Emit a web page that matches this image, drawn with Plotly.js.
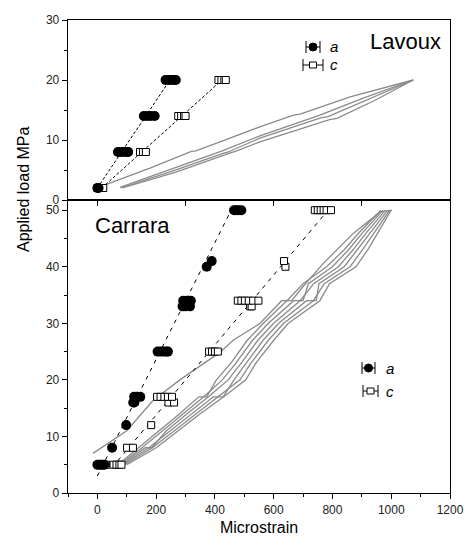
<!DOCTYPE html>
<html><head><meta charset="utf-8">
<script src="https://cdn.plot.ly/plotly-3.0.1.min.js"></script>
<style>html,body{margin:0;padding:0;background:#fff}#chart{width:468px;height:539px}</style>
</head><body><div id="chart"></div>
<script>
// ---------- Lavoux (top panel) ----------
const lavAX = [0, 4, 70, 80, 90, 100, 105, 158, 170, 182, 195, 232, 242, 252, 262, 267];
const lavAY = [2, 2, 8, 8, 8, 8, 8, 14, 14, 14, 14, 20, 20, 20, 20, 20];
const lavCX = [0, 10, 20, 145, 155, 165, 275, 285, 295, 300, 412, 422, 432, 437];
const lavCY = [2, 2, 2, 8, 8, 8, 14, 14, 14, 14, 20, 20, 20, 20];
const lavCErr = [5, 5, 5, 5, 5, 5, 5, 5, 5, 5, 5, 5, 5, 5];
const lavFitAX = [0, 247];
const lavFitAY = [2, 20];
const lavFitCX = [15, 424];
const lavFitCY = [2, 20];
const lavGauge1X = [15, 179, 320, 335, 440, 553, 665, 690, 860, 1075];
const lavGauge1Y = [2.3, 5.3, 8.1, 8.2, 10.1, 12.2, 14.1, 14.3, 17.2, 20];
const lavGauge2X = [77, 250, 410, 425, 553, 740, 755, 900, 1075];
const lavGauge2Y = [2.1, 5.1, 8.0, 8.2, 10.7, 13.9, 14.1, 16.9, 20];
const lavGauge3X = [80, 260, 430, 445, 553, 760, 785, 920, 1075];
const lavGauge3Y = [2, 4.9, 7.8, 8.0, 10.3, 13.7, 13.9, 16.7, 20];
const lavGauge4X = [85, 270, 455, 470, 553, 790, 815, 940, 1075];
const lavGauge4Y = [2, 4.7, 7.9, 8.1, 9.7, 13.4, 13.6, 16.5, 20];

// ---------- Carrara (bottom panel) ----------
const carAX = [0, 6, 12, 18, 24, 50, 98, 122, 126, 125, 135, 146, 205, 215, 225, 235, 240, 290, 300, 315, 292, 305, 318, 372, 389, 465, 472, 480, 490];
const carAY = [5, 5, 5, 5, 5, 8, 12, 16, 16, 17, 17, 17, 25, 25, 25, 25, 25, 33, 33, 33, 34, 34, 34, 40, 41, 50, 50, 50, 50];
const carCX = [30, 55, 65, 75, 82, 101, 121, 183, 242, 261, 203, 215, 228, 240, 254, 380, 390, 400, 410, 520, 525, 478, 490, 502, 515, 530, 548, 640, 635, 740, 750, 760, 770, 780, 795];
const carCY = [5, 5, 5, 5, 5, 8, 8, 12, 16, 16, 17, 17, 17, 17, 17, 25, 25, 25, 25, 33, 33, 34, 34, 34, 34, 34, 34, 40, 41, 50, 50, 50, 50, 50, 50];
const carCErr = carCX.map(() => 5);
const carFitAX = [0, 465];
const carFitAY = [3, 51];
const carFitCX = [50, 785];
const carFitCY = [4.5, 50];
const carGaugeAX = [70, 140, 210, 280, 345, 372, 405, 455, 510, 565, 645, 700, 780, 840, 890, 965];
const carGaugeAY = [5, 8, 11, 14, 17, 17, 20, 23, 27, 30, 34, 37, 40, 43, 46, 50];
const carGaugeBX = [75, 152, 222, 292, 362, 425, 472, 528, 582, 668, 700, 718, 800, 855, 902, 972];
const carGaugeBY = [5, 8, 11, 14, 17, 20, 23, 27, 30, 34, 34, 37, 40, 43, 46, 50];
const carGaugeCX = [80, 163, 185, 235, 305, 378, 445, 490, 546, 600, 690, 736, 820, 870, 915, 980];
const carGaugeCY = [5, 8, 8, 11, 14, 17, 20, 23, 27, 30, 34, 37, 40, 43, 46, 50];
const carGaugeDX = [86, 175, 248, 320, 395, 428, 465, 507, 564, 617, 712, 745, 754, 840, 885, 928, 988];
const carGaugeDY = [5, 8, 11, 14, 17, 17, 20, 23, 27, 30, 34, 34, 37, 40, 43, 46, 50];
const carGaugeEX = [92, 187, 262, 335, 412, 485, 523, 582, 634, 735, 772, 860, 902, 942, 995];
const carGaugeEY = [5, 8, 11, 14, 17, 20, 23, 27, 30, 34, 37, 40, 43, 46, 50];
const carGaugeFX = [100, 200, 275, 350, 430, 505, 540, 600, 650, 757, 790, 880, 920, 955, 1000];
const carGaugeFY = [5, 8, 11, 14, 17, 20, 23, 27, 30, 34, 37, 40, 43, 46, 50];
const carGaugeGX = [-15, 100, 190, 281, 345, 418, 462, 554, 627, 661, 700, 769, 871, 962, 1002];
const carGaugeGY = [7, 11, 16.4, 20, 22.3, 24.9, 27, 30, 34, 34, 36.5, 40.6, 45.9, 49.7, 50];

const gray = '#8a8a8a';
function gauge(x, y, ya) {
  return {x: x, y: y, xaxis: ya === 'y2' ? 'x2' : 'x', yaxis: ya, mode: 'lines',
          line: {color: gray, width: 1.3}, hoverinfo: 'skip', showlegend: false};
}
function fit(x, y, ya, dash) {
  return {x: x, y: y, xaxis: ya === 'y2' ? 'x2' : 'x', yaxis: ya, mode: 'lines',
          line: {color: 'black', width: 1, dash: dash}, showlegend: false};
}
function circles(x, y, ya) {
  return {x: x, y: y, xaxis: ya === 'y2' ? 'x2' : 'x', yaxis: ya, mode: 'markers',
          marker: {symbol: 'circle', size: 10, color: 'black'}, showlegend: false};
}
function squares(x, y, err, ya) {
  return {x: x, y: y, xaxis: ya === 'y2' ? 'x2' : 'x', yaxis: ya, mode: 'markers',
          marker: {symbol: 'square', size: 7, color: 'white', line: {color: 'black', width: 1}},
          error_x: {type: 'data', array: err, visible: true, color: 'black', thickness: 1, width: 2},
          showlegend: false};
}

const traces = [
  gauge(lavGauge1X, lavGauge1Y, 'y2'), gauge(lavGauge2X, lavGauge2Y, 'y2'),
  gauge(lavGauge3X, lavGauge3Y, 'y2'), gauge(lavGauge4X, lavGauge4Y, 'y2'),
  gauge(carGaugeAX, carGaugeAY, 'y'), gauge(carGaugeBX, carGaugeBY, 'y'), gauge(carGaugeCX, carGaugeCY, 'y'),
  gauge(carGaugeDX, carGaugeDY, 'y'), gauge(carGaugeEX, carGaugeEY, 'y'), gauge(carGaugeFX, carGaugeFY, 'y'),
  gauge(carGaugeGX, carGaugeGY, 'y'),
  fit(lavFitAX, lavFitAY, 'y2', '3px,2px'), fit(lavFitCX, lavFitCY, 'y2', '3px,2px'),
  fit(carFitAX, carFitAY, 'y', '4px,5px'), fit(carFitCX, carFitCY, 'y', '4px,5px'),
  squares(lavCX, lavCY, lavCErr, 'y2'), circles(lavAX, lavAY, 'y2'),
  squares(carCX, carCY, carCErr, 'y'), circles(carAX, carAY, 'y')
];

// legend drawing helpers (paper coordinates from pixel positions)
const L = 68, W = 382, B = 493, H = 473;
const px = v => (v - L) / W, py = v => (B - v) / H;
const shapes = [], ann = [];
function legendRow(cx, cy, half, sym, label, lx) {
  shapes.push({type: 'line', xref: 'paper', yref: 'paper', x0: px(cx - half), x1: px(cx + half), y0: py(cy), y1: py(cy), line: {color: 'black', width: 1}});
  shapes.push({type: 'line', xref: 'paper', yref: 'paper', x0: px(cx - half), x1: px(cx - half), y0: py(cy - 6), y1: py(cy + 6), line: {color: 'black', width: 1}});
  shapes.push({type: 'line', xref: 'paper', yref: 'paper', x0: px(cx + half), x1: px(cx + half), y0: py(cy - 6), y1: py(cy + 6), line: {color: 'black', width: 1}});
  if (sym === 'circle') {
    shapes.push({type: 'circle', xref: 'paper', yref: 'paper', xsizemode: 'pixel', ysizemode: 'pixel',
      xanchor: px(cx), yanchor: py(cy), x0: -4, x1: 4, y0: -4, y1: 4, fillcolor: 'black', line: {color: 'black', width: 1}});
  } else {
    shapes.push({type: 'rect', xref: 'paper', yref: 'paper', xsizemode: 'pixel', ysizemode: 'pixel',
      xanchor: px(cx), yanchor: py(cy), x0: -3.5, x1: 3.5, y0: -3, y1: 3, fillcolor: 'white', line: {color: 'black', width: 1}});
  }
  ann.push({xref: 'paper', yref: 'paper', x: px(lx), y: py(cy), text: '<i>' + label + '</i>', showarrow: false,
    xanchor: 'left', yanchor: 'middle', font: {family: 'Liberation Sans, Arial', size: 15, color: 'black'}});
}
legendRow(313, 47, 7, 'circle', 'a', 328);
legendRow(313, 65, 10, 'square', 'c', 328);
legendRow(368.5, 368, 6.5, 'circle', 'a', 384);
legendRow(370.5, 391, 7.5, 'square', 'c', 384);

ann.push({xref: 'paper', yref: 'paper', x: px(405), y: py(42), text: 'Lavoux', showarrow: false,
  xanchor: 'center', yanchor: 'middle', font: {family: 'Liberation Sans, Arial', size: 22, color: 'black'}});
ann.push({xref: 'paper', yref: 'paper', x: px(132), y: py(225), text: 'Carrara', showarrow: false,
  xanchor: 'center', yanchor: 'middle', font: {family: 'Liberation Sans, Arial', size: 22, color: 'black'}});
ann.push({xref: 'paper', yref: 'paper', x: px(23), y: py(189), text: 'Applied load MPa', showarrow: false,
  textangle: -90, xanchor: 'center', yanchor: 'middle', font: {family: 'Liberation Sans, Arial', size: 16, color: 'black'}});

const tickFont = {family: 'Liberation Sans, Arial', size: 12, color: '#222'};
const split = 293 / 473;
const layout = {
  width: 468, height: 539,
  margin: {l: 68, r: 18, t: 20, b: 46},
  paper_bgcolor: 'white', plot_bgcolor: 'white',
  showlegend: false,
  font: {family: 'Liberation Sans, Arial'},
  xaxis: {domain: [0, 1], anchor: 'y', range: [-100, 1200], dtick: 200, tick0: 0,
    ticks: 'outside', ticklen: 5, tickwidth: 1, tickcolor: 'black',
    minor: {dtick: 100, ticks: 'outside', ticklen: 3, tickcolor: 'black', showgrid: false},
    showline: true, linecolor: 'black', linewidth: 1.3, mirror: true, showgrid: false, zeroline: false,
    tickfont: tickFont,
    title: {text: 'Microstrain', font: {family: 'Liberation Sans, Arial', size: 16, color: 'black'}, standoff: 6}},
  xaxis2: {domain: [0, 1], anchor: 'y2', matches: 'x', range: [-100, 1200], dtick: 300, tick0: 0,
    ticks: 'outside', ticklen: 5, tickwidth: 1, tickcolor: 'black', showticklabels: false,
    showline: true, linecolor: 'black', linewidth: 1.3, mirror: true, showgrid: false, zeroline: false},
  yaxis: {domain: [0, split], anchor: 'x', range: [0, 51.8], dtick: 10, tick0: 0,
    ticks: 'outside', ticklen: 5, tickwidth: 1, tickcolor: 'black',
    minor: {dtick: 5, ticks: 'outside', ticklen: 3, tickcolor: 'black', showgrid: false},
    showline: true, linecolor: 'black', linewidth: 1.3, mirror: true, showgrid: false, zeroline: false,
    tickfont: tickFont},
  yaxis2: {domain: [split, 1], anchor: 'x2', range: [0, 30], dtick: 10, tick0: 0,
    ticks: 'outside', ticklen: 5, tickwidth: 1, tickcolor: 'black',
    minor: {dtick: 5, ticks: 'outside', ticklen: 3, tickcolor: 'black', showgrid: false},
    showline: true, linecolor: 'black', linewidth: 1.3, mirror: true, showgrid: false, zeroline: false,
    tickfont: tickFont},
  shapes: shapes,
  annotations: ann
};
Plotly.newPlot('chart', traces, layout, {displayModeBar: false, staticPlot: true});
</script>
</body></html>
